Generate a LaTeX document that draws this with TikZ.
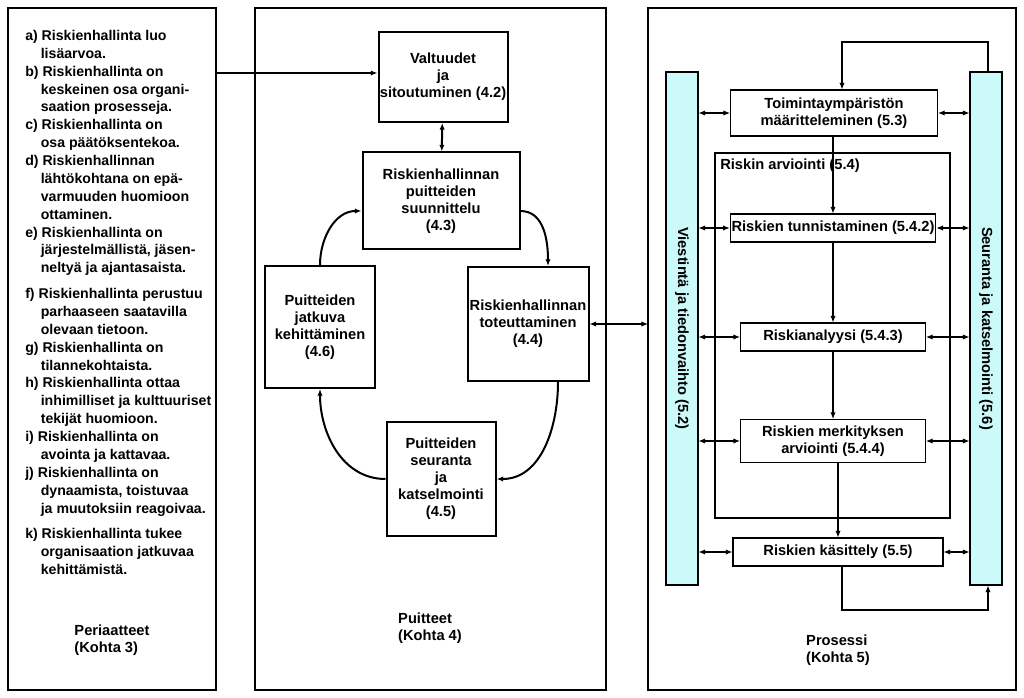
\documentclass[tikz,border=0pt]{standalone}
\usepackage{fontspec}
\setmainfont{Liberation Sans}
\usetikzlibrary{arrows.meta, calc, positioning}

\begin{document}
\begin{tikzpicture}[x=0.75pt, y=-0.75pt, >={Latex[length=5pt,width=4pt]},
    font=\fontsize{11}{12.8}\selectfont\bfseries,
    frame/.style={draw, line width=1.8pt},
    mbox/.style={draw, line width=1.5pt, fill=white, align=center, inner sep=1pt},
    pbox/.style={draw, line width=0.8pt, fill=white, align=center, inner sep=1pt},
    bar/.style={draw, line width=0.8pt, fill=teal!25!cyan!20, minimum width=24pt, minimum height=384.75pt},
    cycle/.style={->, line width=1.5pt}]

    \useasboundingbox (0,0) rectangle (1024,698);

    % outer frames
    \draw[frame] (8,8) rectangle (216,690);
    \draw[frame] (255,8) rectangle (606,690);
    \draw[frame] (648,8) rectangle (1016,690);

    % principles
    \node[anchor=north west, align=left, inner sep=0pt, font=\fontsize{10.6}{13.4}\selectfont\bfseries] (periaatteet) at (25,30) {%
      a) Riskienhallinta luo\\
      \hspace*{1.1em}lisäarvoa.\\
      b) Riskienhallinta on\\
      \hspace*{1.1em}keskeinen osa organi-\\
      \hspace*{1.1em}saation prosesseja.\\
      c) Riskienhallinta on\\
      \hspace*{1.1em}osa päätöksentekoa.\\
      d) Riskienhallinnan\\
      \hspace*{1.1em}lähtökohtana on epä-\\
      \hspace*{1.1em}varmuuden huomioon\\
      \hspace*{1.1em}ottaminen.\\
      e) Riskienhallinta on\\
      \hspace*{1.1em}järjestelmällistä, jäsen-\\
      \hspace*{1.1em}neltyä ja ajantasaista.\\[6pt]
      f) Riskienhallinta perustuu\\
      \hspace*{1.1em}parhaaseen saatavilla\\
      \hspace*{1.1em}olevaan tietoon.\\
      g) Riskienhallinta on\\
      \hspace*{1.1em}tilannekohtaista.\\
      h) Riskienhallinta ottaa\\
      \hspace*{1.1em}inhimilliset ja kulttuuriset\\
      \hspace*{1.1em}tekijät huomioon.\\
      i) Riskienhallinta on\\
      \hspace*{1.1em}avointa ja kattavaa.\\
      j) Riskienhallinta on\\
      \hspace*{1.1em}dynaamista, toistuvaa\\
      \hspace*{1.1em}ja muutoksiin reagoivaa.\\[6pt]
      k) Riskienhallinta tukee\\
      \hspace*{1.1em}organisaation jatkuvaa\\
      \hspace*{1.1em}kehittämistä.};
    \node[align=left] (kohta3) at (112,640) {Periaatteet\\(Kohta 3)};

    % framework
    \node[mbox, minimum width=96.75pt, minimum height=67.5pt] (valtuudet) at (443,77) {Valtuudet\\ja\\sitoutuminen (4.2)};
    \node[mbox, minimum width=117.75pt, minimum height=72.75pt] (suunnittelu) at (441,201) {Riskienhallinnan\\puitteiden\\suunnittelu\\(4.3)};
    \node[mbox, minimum width=90.75pt, minimum height=85.5pt] (toteutus) at (528,324) {Riskienhallinnan\\toteuttaminen\\(4.4)};
    \node[mbox, minimum width=81.75pt, minimum height=85.5pt] (seuranta) at (441,479) {Puitteiden\\seuranta\\ja\\katselmointi\\(4.5)};
    \node[mbox, minimum width=82.5pt, minimum height=91.5pt] (jatkuva) at (320,327) {Puitteiden\\jatkuva\\kehittäminen\\(4.6)};
    \node[align=left] (kohta4) at (430,628) {Puitteet\\(Kohta 4)};

    \coordinate (left-out) at (216,73);
    \draw[->, line width=1.5pt] (left-out) -- (left-out -| valtuudet.west);
    \draw[<->, line width=1.5pt] (valtuudet) -- (suunnittelu);
    \draw[cycle] ([yshift=-7.5pt]suunnittelu.east) to[out=0, in=90] ([xshift=15pt]toteutus.north);
    \draw[cycle] ([xshift=22.5pt]toteutus.south) to[out=-90, in=0] (seuranta.east);
    \draw[cycle] (seuranta.west) to[out=180, in=-90] (jatkuva.south);
    \draw[cycle] (jatkuva.north) to[out=90, in=180] ([yshift=-7.5pt]suunnittelu.west);

    % process
    \coordinate (prosessi-in) at (648,324);
    \draw[<->, line width=0.8pt] (toteutus.east) -- (prosessi-in);

    \node[bar] (viestinta) at (682,328.5) {};
    \node[rotate=-90] at (viestinta) {Viestintä ja tiedonvaihto (5.2)};
    \node[bar] (seurantapalkki) at (986,328.5) {};
    \node[rotate=-90] at (seurantapalkki) {Seuranta ja katselmointi (5.6)};

    \draw[line width=0.8pt] (715,153) rectangle (950,518);
    \node[anchor=north west, inner sep=0pt] (arviointi) at (720,159) {Riskin arviointi (5.4)};

    \node[pbox, minimum width=155.25pt, minimum height=34.5pt] (toimintaymp) at (834,113) {Toimintaympäristön\\määritteleminen (5.3)};
    \node[pbox, minimum width=138.75pt, minimum height=21pt] (tunnistus) at (833,228) {Riskien tunnistaminen (5.4.2)};
    \node[pbox, minimum width=138.75pt, minimum height=21pt] (analyysi) at (833,337) {Riskianalyysi (5.4.3)};
    \node[pbox, minimum width=138.75pt, minimum height=32.25pt] (merkitys) at (833,441) {Riskien merkityksen\\arviointi (5.4.4)};
    \node[pbox, minimum width=157.5pt, minimum height=21pt] (kasittely) at (838,552) {Riskien käsittely (5.5)};
    \node[align=left] (kohta5) at (838,650) {Prosessi\\(Kohta 5)};

    \draw[->, line width=0.8pt] (toimintaymp.south -| tunnistus.north) -- (tunnistus.north);
    \draw[->, line width=0.8pt] (tunnistus) -- (analyysi);
    \draw[->, line width=0.8pt] (analyysi) -- (merkitys);
    \draw[->, line width=0.8pt] (merkitys.south -| kasittely.north) -- (kasittely.north);

    \foreach \n in {toimintaymp, tunnistus, analyysi, merkitys, kasittely} {
      \draw[<->, line width=0.8pt] (\n.west -| viestinta.east) -- (\n.west);
      \draw[<->, line width=0.8pt] (\n.east) -- (\n.east -| seurantapalkki.west);
    }

    \coordinate (ylakulma) at (988,42);
    \draw[->, line width=0.8pt] (seurantapalkki.north -| ylakulma) -- (ylakulma) -| ([xshift=6pt]toimintaymp.north);
    \coordinate (alakulma) at (842,610);
    \draw[->, line width=0.8pt] ([xshift=3pt]kasittely.south) -- (alakulma) -| (seurantapalkki.south -| ylakulma);

\end{tikzpicture}
\end{document}
